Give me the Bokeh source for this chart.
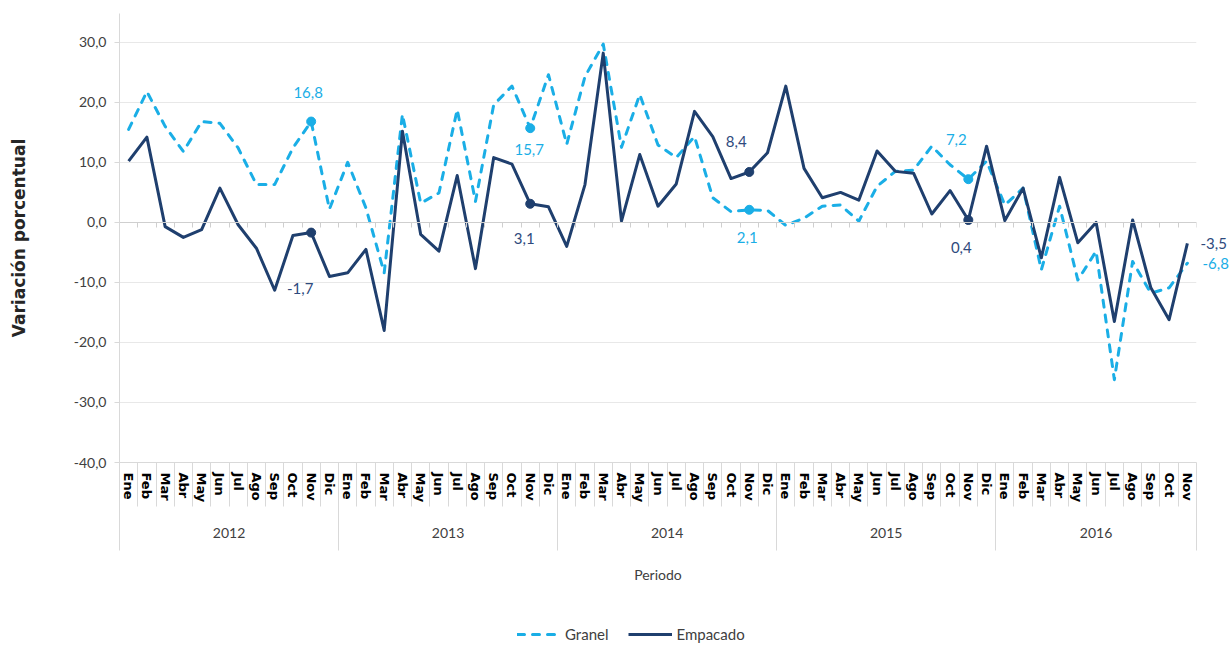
from bokeh.plotting import figure
from bokeh.layouts import column
from bokeh.models import (Range1d, LinearAxis, FixedTicker, CustomJSTickFormatter,
                          Grid, Legend, LegendItem, ColumnDataSource, LabelSet)
from bokeh.core.properties import value
from bokeh.embed import file_html
from bokeh.resources import INLINE

# ---------------- data ----------------
years = ["2012", "2013", "2014", "2015", "2016"]
months = ["Ene", "Feb", "Mar", "Abr", "May", "Jun", "Jul", "Ago", "Sep", "Oct", "Nov", "Dic"]
months_per_year = [12, 12, 12, 12, 11]

granel = [
    15.5, 21.8, 16.0, 11.8, 16.8, 16.5, 12.4, 6.3, 6.3, 12.4, 16.8, 2.2,
    10.0, 2.4, -8.4, 18.0, 3.2, 4.9, 18.8, 3.5, 19.6, 22.7, 15.7, 24.6,
    13.0, 24.3, 29.7, 12.5, 21.3, 12.9, 10.8, 14.3, 4.1, 1.8, 2.1, 2.0,
    -0.5, 0.7, 2.7, 2.9, 0.2, 6.0, 8.5, 8.7, 12.7, 9.6, 7.2, 10.2,
    2.9, 5.7, -7.9, 2.7, -9.6, -4.8, -26.2, -6.5, -11.8, -10.9, -6.8,
]
empacado = [
    10.2, 14.2, -0.7, -2.5, -1.2, 5.7, -0.4, -4.3, -11.3, -2.2, -1.7, -9.0,
    -8.4, -4.5, -18.0, 15.2, -2.0, -4.8, 7.8, -7.7, 10.8, 9.7, 3.1, 2.6,
    -4.0, 6.3, 28.2, 0.2, 11.3, 2.7, 6.4, 18.5, 14.3, 7.3, 8.4, 11.6,
    22.7, 9.0, 4.1, 5.0, 3.7, 11.9, 8.5, 8.2, 1.4, 5.3, 0.4, 12.7,
    0.3, 5.7, -5.9, 7.5, -3.4, 0.0, -16.5, 0.4, -10.9, -16.2, -3.5,
]
y_ticks = [-40, -30, -20, -10, 0, 10, 20, 30]

# highlighted / labelled points (November of each year); the last one is labelled at the right edge
marker_idx = [10, 22, 34, 46]

# label pixel offsets (styling; screen px, +down)
granel_off = [(-3, -29), (-1, 21), (-2, 28), (-12, -40)]
empacado_off = [(-11, 56), (-6, 35), (-13, -30), (-7, 28)]

# ---------------- derived ----------------
month_labels = []
year_centers = []
year_bounds = [-0.5]
start = 0
for n in months_per_year:
    month_labels += months[:n]
    year_centers.append(start + (n - 1) / 2)
    start += n
    year_bounds.append(start - 0.5)
N = len(month_labels)
xs = list(range(N))
bounds = [i - 0.5 for i in range(N + 1)]

C_G = "#1AAEE6"
C_E = "#1F3F6E"
C_EL = "#2E4A7D"
GRID = "#e8e8e8"
AX = "#d9d9d9"
TXT = "#404040"

G_STYLE = dict(line_color=C_G, line_width=3, line_dash="7 8", line_cap="round", line_join="round")
E_STYLE = dict(line_color=C_E, line_width=3, line_join="round")
COMMA = "return tick.toFixed(1).replace('.', ',')"


def fmt(v):
    return f"{v:.1f}".replace(".", ",")


p = figure(width=1232, height=624, output_backend="svg", toolbar_location=None,
           x_range=Range1d(-0.5, N - 0.5), y_range=Range1d(-40, 34.8),
           x_axis_type=None, y_axis_type=None,
           min_border_left=119, min_border_right=36, min_border_top=13,
           min_border_bottom=162)
p.outline_line_color = None
p.background_fill_color = "white"
p.border_fill_color = "white"

# grid
yt = FixedTicker(ticks=y_ticks)
p.add_layout(Grid(dimension=1, ticker=yt, grid_line_color=GRID, grid_line_width=1))

# y axis
yax = LinearAxis(ticker=yt, formatter=CustomJSTickFormatter(code=COMMA),
                 axis_line_color=AX, major_tick_line_color=AX, major_tick_out=5, major_tick_in=0,
                 minor_tick_line_color=None,
                 major_label_text_font="Lato", major_label_text_font_size="14px",
                 major_label_text_color=TXT, major_label_standoff=8,
                 axis_label="Variación porcentual", axis_label_text_font="DejaVu Sans",
                 axis_label_text_font_style="bold", axis_label_text_font_size="17px",
                 axis_label_text_color="#262626", axis_label_standoff=42)
p.add_layout(yax, "left")

# right-edge value labels of the last month (tick labels at the last values)
r1 = LinearAxis(ticker=FixedTicker(ticks=[empacado[-1]]), formatter=CustomJSTickFormatter(code=COMMA),
                axis_line_color=None, major_tick_line_color=None, minor_tick_line_color=None,
                major_tick_out=0, major_tick_in=0, major_label_standoff=4,
                major_label_text_font="Lato", major_label_text_font_size="15px",
                major_label_text_color=C_EL)
p.add_layout(r1, "right")
r2 = LinearAxis(ticker=FixedTicker(ticks=[granel[-1]]), formatter=CustomJSTickFormatter(code=COMMA),
                axis_line_color=None, major_tick_line_color=None, minor_tick_line_color=None,
                major_tick_out=0, major_tick_in=0, major_label_standoff=-27,
                major_label_text_font="Lato", major_label_text_font_size="15px",
                major_label_text_color=C_G)
p.add_layout(r2, "right")

# month axis
max_ax = LinearAxis(ticker=FixedTicker(ticks=xs, minor_ticks=bounds),
                    formatter=CustomJSTickFormatter(args=dict(labels=month_labels),
                                                    code="return labels[Math.round(tick)] || ''"),
                    axis_line_color=AX, major_tick_line_color=None, major_tick_out=0,
                    minor_tick_line_color=AX, minor_tick_out=44, minor_tick_in=0,
                    major_label_orientation="vertical",
                    major_label_text_font="DejaVu Sans", major_label_text_font_style="bold",
                    major_label_text_font_size="13px", major_label_text_color="black",
                    major_label_standoff=-34)
p.add_layout(max_ax, "below")

# year axis
year_ax = LinearAxis(ticker=FixedTicker(ticks=year_centers, minor_ticks=year_bounds),
                     formatter=CustomJSTickFormatter(args=dict(labels=years, centers=year_centers),
                                                     code="return labels[centers.indexOf(tick)] || ''"),
                     axis_line_color=None, major_tick_line_color=None, major_tick_out=0,
                     minor_tick_line_color=AX, minor_tick_out=45, minor_tick_in=12,
                     major_label_text_font="Lato", major_label_text_font_size="14px",
                     major_label_text_color=TXT, major_label_standoff=-23,
                     axis_label="Periodo", axis_label_text_font="Lato",
                     axis_label_text_font_style="normal", axis_label_text_font_size="14px",
                     axis_label_text_color=TXT, axis_label_standoff=25)
p.add_layout(year_ax, "below")

# zero axis line with ticks
zero_ax = LinearAxis(ticker=FixedTicker(ticks=bounds), fixed_location=0,
                     formatter=CustomJSTickFormatter(code="return ''"),
                     axis_line_color="#cfcfcf", major_tick_line_color="#cfcfcf",
                     major_tick_out=5, major_tick_in=0, minor_tick_line_color=None,
                     major_label_standoff=0, major_label_text_font_size="0px")
p.add_layout(zero_ax, "below")

# lines
src = ColumnDataSource(dict(x=xs, g=granel, e=empacado))
p.line("x", "g", source=src, **G_STYLE)
p.line("x", "e", source=src, **E_STYLE)

# markers
p.scatter([xs[i] for i in marker_idx], [granel[i] for i in marker_idx], size=9, color=C_G)
p.scatter([xs[i] for i in marker_idx], [empacado[i] for i in marker_idx], size=9, color=C_E)

# data labels
gl = ColumnDataSource(dict(x=[xs[i] for i in marker_idx], y=[granel[i] for i in marker_idx],
                           t=[fmt(granel[i]) for i in marker_idx],
                           dx=[o[0] for o in granel_off], dy=[-o[1] for o in granel_off]))
el = ColumnDataSource(dict(x=[xs[i] for i in marker_idx], y=[empacado[i] for i in marker_idx],
                           t=[fmt(empacado[i]) for i in marker_idx],
                           dx=[o[0] for o in empacado_off], dy=[-o[1] for o in empacado_off]))
p.add_layout(LabelSet(x="x", y="y", text="t", source=gl, x_offset="dx", y_offset="dy",
                      text_font=value("Lato"), text_font_size="15px", text_color=C_G,
                      text_align="center", text_baseline="middle"))
p.add_layout(LabelSet(x="x", y="y", text="t", source=el, x_offset="dx", y_offset="dy",
                      text_font=value("Lato"), text_font_size="15px", text_color=C_EL,
                      text_align="center", text_baseline="middle"))

# legend strip below the chart
pl = figure(width=1232, height=22, output_backend="svg", toolbar_location=None,
            x_range=Range1d(0, 1), y_range=Range1d(0, 1),
            x_axis_type=None, y_axis_type=None, min_border=0)
pl.outline_line_color = None
pl.background_fill_color = "white"
pl.border_fill_color = "white"
lg = pl.line(x=[-9, -8], y=[-9, -9], **G_STYLE)   # off-range: only the legend sample is seen
le = pl.line(x=[-9, -8], y=[-9, -9], **E_STYLE)
legend = Legend(items=[LegendItem(label="Granel", renderers=[lg]),
                       LegendItem(label="Empacado", renderers=[le])],
                orientation="horizontal", location=(398, 3),
                border_line_color=None, background_fill_alpha=0,
                padding=0, margin=0, spacing=20, glyph_width=44, glyph_height=16,
                label_height=16, label_standoff=4,
                label_text_font="Lato", label_text_font_size="15px", label_text_color=TXT)
pl.add_layout(legend, "center")

layout = column(p, pl, spacing=0)
open("out.html", "w").write(file_html(layout, INLINE))
